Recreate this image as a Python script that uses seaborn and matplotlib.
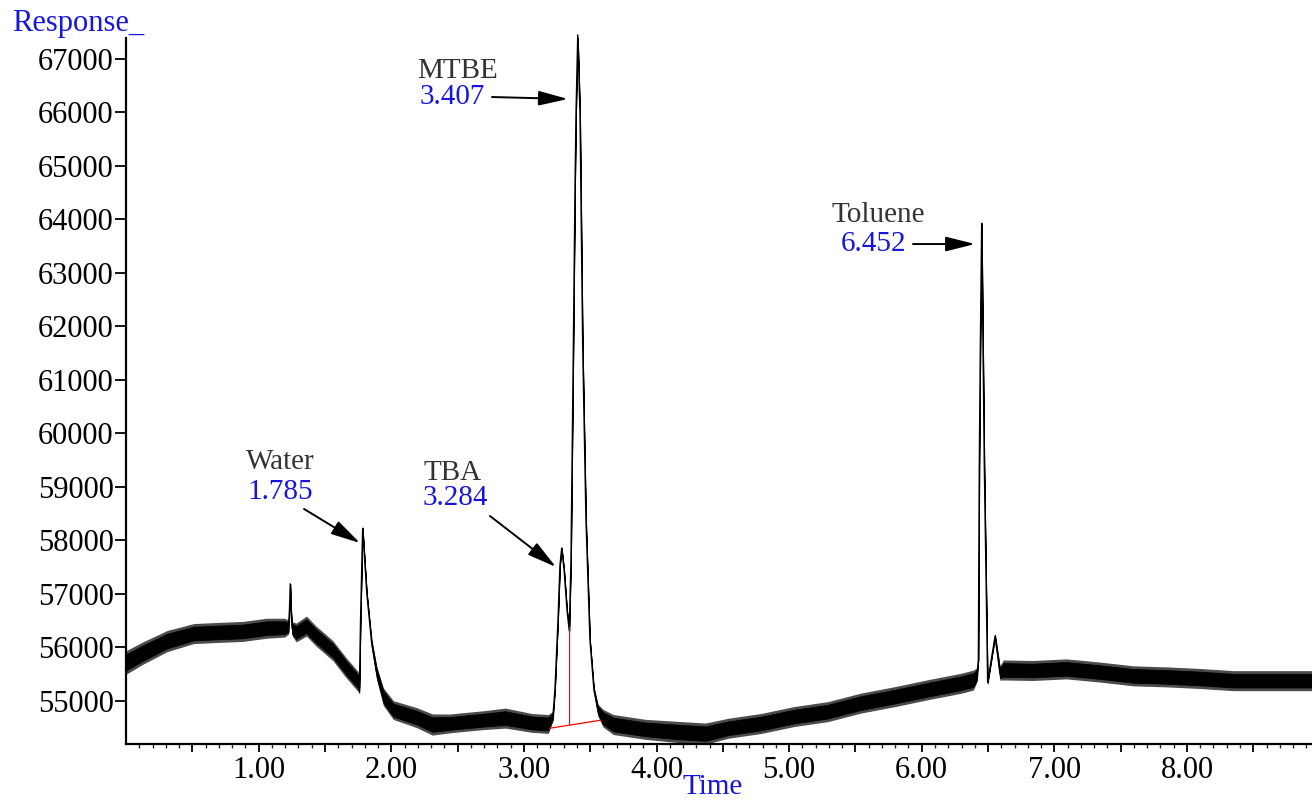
import numpy as np
import pandas as pd
import matplotlib
matplotlib.use("Agg")
import matplotlib.pyplot as plt
import seaborn as sns
from matplotlib.patches import ArrowStyle

# ---- data ----
time_min = [0.00, 0.13, 0.31, 0.51, 0.68, 0.88, 1.06, 1.195, 1.225, 1.232, 1.238, 1.244, 1.252,
            1.283, 1.36, 1.43, 1.56, 1.66, 1.751, 1.759, 1.768, 1.784, 1.815, 1.852, 1.890,
            1.940, 2.015, 2.19, 2.31, 2.44, 2.56, 2.69, 2.86, 3.06, 3.184, 3.219, 3.234,
            3.257, 3.272, 3.285, 3.303, 3.325, 3.342, 3.355, 3.373, 3.386, 3.393, 3.406,
            3.423, 3.443, 3.468, 3.498, 3.528, 3.558, 3.596, 3.674, 3.915, 4.165, 4.37,
            4.54, 4.79, 5.04, 5.29, 5.54, 5.795, 6.045, 6.295, 6.389, 6.417, 6.427, 6.434,
            6.442, 6.452, 6.462, 6.472, 6.497, 6.553, 6.59, 6.615, 6.84, 7.09, 7.345,
            7.595, 7.85, 8.10, 8.35, 8.60, 8.943]
response = [55720, 55900, 56120, 56260, 56280, 56300, 56360, 56370, 56380, 56700, 57190, 56700, 56350,
            56280, 56400, 56220, 55940, 55620, 55360, 55200, 56500, 58230, 57020, 56080, 55520,
            55080, 54830, 54690, 54560, 54580, 54610, 54640, 54680, 54590, 54570, 54720, 55210,
            56510, 57540, 57860, 57450, 56700, 56310, 57640, 61670, 64740, 65990, 67450,
            65990, 61670, 58380, 56140, 55210, 54830, 54680, 54560, 54470, 54420, 54390,
            54490, 54580, 54710, 54800, 54960, 55080, 55210, 55330, 55390, 55490, 55770, 59380,
            61650, 63930, 61650, 59380, 55350, 56210, 55520, 55580, 55570, 55600, 55540,
            55470, 55450, 55420, 55380, 55380, 55380]
noise_half = [200, 190, 180, 170, 170, 170, 170, 160, 120, 30, 0, 30, 120,
              160, 170, 170, 170, 170, 170, 60, 0, 0, 20, 60, 110,
              150, 160, 170, 180, 160, 160, 160, 170, 160, 160, 80, 20,
              0, 0, 0, 0, 0, 0, 0, 0, 0, 0, 0,
              0, 0, 0, 0, 40, 100, 150, 170, 170, 180, 180,
              170, 170, 170, 170, 170, 170, 170, 170, 170, 120, 0, 0,
              0, 0, 0, 0, 30, 40, 120, 170, 170, 170, 170,
              170, 170, 170, 170, 170, 170]

# integration baseline (red)
base_t = [3.192, 3.579]
base_y = [54490, 54640]
drop_t = [3.342, 3.342]
drop_y = [56390, 54570]

# peak labels
peak_names = ["Water", "TBA", "MTBE", "Toluene"]
peak_times = ["1.785", "3.284", "3.407", "6.452"]
name_xy = [(1.163, 59460), (2.465, 59260), (2.503, 66770), (5.670, 64080)]
num_xy = [(1.163, 58906), (2.480, 58790), (2.458, 66289), (5.633, 63541)]
arrow_tail = [(1.342, 58589), (2.744, 58458), (2.759, 66289), (5.934, 63541)]
arrow_head = [(1.764, 57953), (3.242, 57504), (3.332, 66252), (6.402, 63541)]

major_ticks = [0.5, 1.0, 1.5, 2.0, 2.5, 3.0, 3.5, 4.0, 4.5, 5.0, 5.5, 6.0, 6.5, 7.0, 7.5, 8.0, 8.5]
y_ticks = [55000, 56000, 57000, 58000, 59000, 60000, 61000, 62000, 63000, 64000, 65000, 66000, 67000]

# ---- styling ----
sns.set_style("ticks")
plt.rcParams["font.family"] = ["Liberation Serif", "DejaVu Serif"]
FS_TICK = 22
FS_ANN = 21
BLUE = "#1515dd"
GREY = "#333333"

df = pd.DataFrame({"Time": time_min, "Response": response, "hw": noise_half})
df["lo"] = df["Response"] - 1.1 * df["hw"]
df["hi"] = df["Response"] + 1.1 * df["hw"]
df["lo_in"] = df["Response"] - 0.75 * df["hw"]
df["hi_in"] = df["Response"] + 0.75 * df["hw"]

fig = plt.figure(figsize=(13.12, 8), dpi=100)
ax = fig.add_axes([0.0961, 0.07, 0.9039, 0.8825])

# noise envelope: slightly softer outer fringe, solid core
ax.fill_between(df["Time"], df["lo"], df["hi"], color="#1e1e1e", alpha=0.8, lw=0)
ax.fill_between(df["Time"], df["lo_in"], df["hi_in"], color="black", lw=0.6)
sns.lineplot(data=df, x="Time", y="Response", ax=ax, color="black", lw=1.0,
             sort=False, estimator=None)
for ln in ax.lines:
    ln.set_clip_on(False)

ax.plot(base_t, base_y, color="red", lw=0.9)
ax.plot(drop_t, drop_y, color="red", lw=0.9)

for name, num, nxy, vxy, tail, head in zip(peak_names, peak_times, name_xy, num_xy,
                                          arrow_tail, arrow_head):
    ax.text(nxy[0], nxy[1], name, color=GREY, fontsize=FS_ANN, ha="center", va="center")
    ax.text(vxy[0], vxy[1], num, color=BLUE, fontsize=FS_ANN, ha="center", va="center")
    ax.annotate("", xy=head, xytext=tail,
                arrowprops=dict(arrowstyle=ArrowStyle("-|>", head_length=1.2, head_width=0.3),
                                color="black", lw=1.4, mutation_scale=15,
                                shrinkA=0, shrinkB=0))

ax.set_xlim(0, 8.943)
ax.set_ylim(54196, 67392)

ax.set_xticks(major_ticks)
ax.set_xticklabels([f"{v:.2f}" if float(v).is_integer() else "" for v in major_ticks])
ax.set_xticks([i / 10 for i in range(1, 90) if i % 5 != 0], minor=True)
ax.set_yticks(y_ticks)
ax.set_yticklabels([str(v) for v in y_ticks])

ax.tick_params(axis="x", which="major", direction="out", length=6, width=1.3,
               labelsize=FS_TICK, pad=3, colors="black")
ax.tick_params(axis="x", which="minor", direction="out", length=3, width=1.0)
ax.tick_params(axis="y", which="major", direction="out", length=8, width=1.3,
               labelsize=FS_TICK, pad=1, colors="black")

sns.despine(ax=ax, top=True, right=True)
for s in ["left", "bottom"]:
    ax.spines[s].set_linewidth(1.6)
    ax.spines[s].set_color("black")

ax.set_xlabel("")
ax.set_ylabel("")
fig.text(12 / 1312, 1 - 24 / 800, "Response_", color=BLUE, fontsize=22,
         ha="left", va="center")
fig.text(713 / 1312, 1 - 787 / 800, "Time", color=BLUE, fontsize=FS_ANN,
         ha="center", va="center")

fig.savefig("out.png", dpi=100, facecolor="white")
